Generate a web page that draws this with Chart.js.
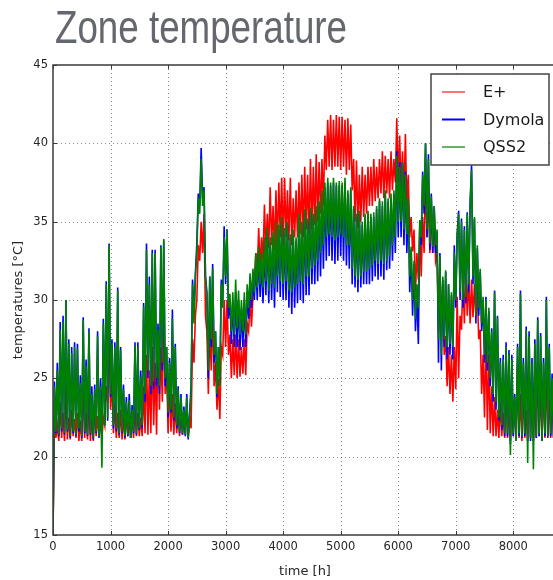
<!DOCTYPE html>
<html>
<head>
<meta charset="utf-8">
<script src="https://cdn.jsdelivr.net/npm/chart.js@4.4.1/dist/chart.umd.min.js"></script>
<style>
  html, body { margin: 0; padding: 0; background: #fff; overflow: hidden; }
  #wrap { position: relative; width: 560px; height: 580px; }
  canvas { position: absolute; left: 0; top: 0; }
  #titulo {
    position: absolute; left: 55px; top: 4px;
    font-family: "Liberation Sans Narrow", "Liberation Sans", Arial, sans-serif;
    font-size: 46px; line-height: 1; color: #64676d;
    white-space: nowrap; transform-origin: 0 0;
  }
</style>
</head>
<body>
<div id="wrap">
  <canvas id="graficoZona" width="560" height="580"></canvas>
  <div id="titulo">Zone temperature</div>
</div>
<script>
// Datos: una muestra cada 25 h (0 .. 8750 h)
const paso = 25;
const xTicks = [0, 1000, 2000, 3000, 4000, 5000, 6000, 7000, 8000];
const yTicks = [15, 20, 25, 30, 35, 40, 45];
const series = ['E+', 'Dymola', 'QSS2'];

const eplus = [
  15, 22.5, 21.2, 22.0, 21.0, 23.5, 21.2, 22.8, 21.0, 24.3, 21.1, 22.5, 21.1, 23.0, 21.3, 22.4, 21.2, 22.8, 21.0, 22.3,
  21.0, 24.5, 21.2, 22.8, 21.1, 23.8, 21.0, 22.5, 21.0, 23.2, 21.3, 22.6, 21.3, 22.2, 21.2, 22.5, 22.0, 24.5, 23.5, 27.9,
  23.0, 25.0, 21.5, 23.4, 21.2, 22.8, 21.2, 23.0, 21.1, 22.5, 21.1, 22.8, 21.3, 22.4, 21.2, 22.6, 21.2, 23.2, 21.3, 22.8,
  21.3, 22.5, 21.3, 24.5, 21.5, 26.5, 21.4, 25.5, 21.5, 27.0, 22.0, 26.0, 21.4, 28.0, 23.0, 27.0, 23.5, 29.0, 24.0, 26.0,
  21.5, 25.0, 21.6, 24.0, 21.4, 23.4, 21.5, 22.8, 21.3, 23.0, 21.4, 22.5, 21.4, 23.2, 21.3, 22.5, 21.8, 27.5, 26.0, 29.0,
  30.0, 33.5, 32.5, 35.0, 33.0, 35.5, 29.0, 28.0, 24.0, 28.5, 25.5, 29.5, 24.5, 26.0, 23.0, 25.0, 22.4, 27.0, 26.5, 30.0,
  27.0, 30.0, 26.5, 27.8, 25.0, 27.5, 25.2, 27.8, 25.0, 27.5, 25.1, 27.0, 25.3, 27.5, 25.2, 28.5, 28.0, 30.0, 28.3, 30.2,
  31.0, 33.0, 31.7, 34.6, 32.0, 34.0, 32.5, 36.1, 33.1, 35.5, 33.3, 37.2, 33.5, 36.0, 33.2, 37.0, 33.5, 37.5, 34.0, 37.8,
  33.5, 37.8, 34.0, 37.0, 33.8, 37.8, 33.5, 36.5, 34.0, 37.0, 34.0, 37.5, 34.2, 38.0, 34.0, 38.5, 34.5, 38.0, 34.2, 39.0,
  34.5, 38.5, 34.8, 39.3, 35.0, 38.8, 35.5, 39.0, 36.0, 40.5, 38.3, 41.5, 38.5, 41.8, 38.3, 41.5, 38.5, 41.8, 38.5, 41.7,
  38.3, 41.7, 38.5, 41.5, 38.0, 41.6, 38.3, 41.2, 37.0, 39.0, 35.0, 38.9, 34.6, 38.0, 35.0, 38.5, 35.3, 38.0, 35.5, 38.5,
  36.0, 38.5, 36.0, 39.0, 36.3, 38.5, 36.5, 39.0, 36.8, 39.5, 36.5, 39.2, 36.8, 39.0, 36.5, 39.5, 37.0, 39.0, 37.5, 41.6,
  37.5, 40.5, 37.0, 39.5, 36.3, 40.6, 36.0, 38.0, 34.0, 35.3, 33.1, 34.5, 30.5, 33.0, 31.3, 34.5, 31.5, 35.3, 33.0, 37.9,
  34.0, 37.0, 33.0, 36.0, 33.0, 35.5, 32.5, 33.0, 28.0, 32.0, 28.5, 31.0, 26.5, 27.7, 24.5, 27.0, 24.0, 26.5, 23.5, 27.0,
  24.3, 30.2, 25.0, 29.0, 28.1, 31.5, 28.5, 32.3, 29.0, 31.5, 28.5, 31.3, 28.9, 31.0, 29.0, 30.5, 27.5, 28.1, 24.0, 26.5,
  22.5, 28.0, 21.7, 26.5, 21.5, 24.5, 21.3, 23.8, 21.3, 23.0, 21.2, 23.5, 21.3, 22.8, 21.2, 25.0, 21.2, 23.5, 21.0, 24.0,
  21.3, 23.5, 21.2, 26.0, 21.2, 24.0, 21.0, 24.5, 21.2, 23.0, 21.0, 25.5, 21.2, 24.0, 21.0, 23.8, 21.2, 26.0, 21.3, 24.5,
  21.0, 25.0, 21.2, 25.5, 21.3, 24.0, 21.2, 23.5, 21.2, 23.0, 21.3
];

const dymola = [
  15, 24.8, 21.5, 26.0, 21.3, 28.6, 21.6, 29.0, 21.4, 30.0, 21.6, 27.5, 21.2, 27.0, 21.5, 27.3, 21.3, 27.2, 21.6, 25.2,
  21.2, 28.9, 21.5, 26.2, 21.3, 28.2, 21.4, 24.5, 21.1, 24.6, 21.5, 28.0, 21.2, 25.0, 21.0, 28.8, 22.0, 31.2, 22.3, 33.6,
  23.8, 27.5, 21.8, 27.3, 21.6, 30.8, 21.4, 27.0, 21.5, 24.6, 21.2, 23.8, 21.3, 24.0, 21.2, 23.3, 21.5, 27.3, 21.4, 27.3,
  21.7, 25.5, 21.8, 29.8, 23.5, 33.6, 25.0, 31.5, 24.0, 33.2, 24.3, 33.2, 24.5, 28.5, 24.0, 33.5, 25.5, 33.8, 24.5, 27.0,
  22.5, 26.3, 22.8, 29.4, 22.3, 27.2, 21.8, 24.5, 21.5, 24.0, 21.4, 23.2, 21.3, 24.0, 21.1, 22.8, 24.5, 31.3, 29.0, 31.7,
  33.6, 36.8, 36.0, 39.7, 36.5, 37.2, 31.5, 30.5, 25.0, 31.5, 27.0, 32.3, 26.0, 28.0, 23.8, 27.0, 24.7, 31.3, 30.0, 34.7,
  31.0, 34.5, 28.8, 30.0, 27.2, 30.0, 27.0, 30.5, 27.0, 30.0, 26.8, 29.5, 27.0, 30.0, 27.0, 30.5, 28.8, 31.2, 29.5, 31.5,
  30.0, 32.5, 30.0, 33.0, 30.2, 32.5, 29.8, 33.5, 30.3, 34.3, 29.8, 33.7, 30.0, 34.0, 29.5, 34.6, 30.5, 34.5, 30.2, 35.0,
  30.0, 34.3, 30.0, 34.8, 29.5, 34.0, 29.1, 34.2, 29.5, 33.8, 29.8, 35.2, 30.0, 34.8, 29.8, 35.5, 30.3, 35.0, 30.3, 35.6,
  31.0, 35.2, 31.0, 35.8, 31.2, 36.0, 31.5, 36.8, 32.0, 37.2, 32.5, 37.5, 32.8, 37.3, 32.5, 37.5, 32.3, 37.3, 32.5, 37.3,
  32.8, 37.3, 32.5, 37.5, 32.2, 36.8, 32.0, 37.0, 31.0, 35.8, 30.8, 35.3, 30.5, 35.5, 30.8, 34.8, 31.0, 35.3, 31.0, 35.5,
  31.0, 35.3, 31.2, 35.3, 31.5, 35.8, 31.3, 36.3, 31.5, 36.0, 31.3, 36.8, 31.9, 36.3, 32.0, 36.5, 32.5, 36.8, 33.0, 39.5,
  34.0, 38.8, 34.0, 38.8, 33.5, 38.2, 33.0, 36.3, 30.5, 33.2, 29.0, 32.3, 28.0, 30.5, 27.2, 35.0, 33.5, 38.2, 35.5, 40.0,
  34.0, 39.3, 33.2, 36.8, 33.0, 36.0, 33.0, 34.3, 26.0, 33.0, 25.5, 31.3, 27.0, 31.8, 26.2, 31.0, 26.5, 30.3, 26.2, 33.5,
  29.5, 34.2, 35.7, 30.0, 35.2, 29.5, 34.7, 29.8, 35.6, 30.5, 36.2, 38.6, 31.0, 35.2, 28.5, 33.3, 29.0, 31.8, 28.0, 30.0,
  26.0, 30.2, 25.5, 29.3, 24.5, 28.2, 23.5, 30.6, 23.0, 29.0, 22.3, 26.3, 21.7, 26.5, 21.3, 27.3, 21.3, 26.8, 20.8, 26.5,
  21.3, 24.0, 21.0, 27.2, 21.3, 30.6, 21.2, 26.3, 21.3, 28.3, 21.0, 28.0, 21.0, 26.3, 21.0, 27.5, 21.2, 28.9, 21.3, 27.9,
  21.0, 26.3, 21.3, 30.2, 21.2, 27.2, 21.3, 25.3, 21.2, 25.8, 21.3
];

const qss2 = [
  15, 24.5, 21.6, 25.5, 21.4, 28.1, 21.8, 28.6, 21.5, 30.0, 21.7, 27.2, 21.3, 26.6, 21.6, 27.0, 21.4, 26.9, 21.8, 24.7,
  21.3, 28.7, 21.6, 25.8, 21.4, 28.0, 21.5, 24.0, 21.2, 24.3, 21.6, 27.7, 21.3, 24.5, 19.3, 28.5, 22.0, 31.0, 22.5, 33.5,
  24.0, 27.2, 22.0, 27.0, 21.8, 30.6, 21.5, 26.8, 21.6, 24.3, 21.3, 23.5, 21.4, 23.6, 21.2, 23.0, 21.6, 27.1, 21.5, 27.0,
  21.8, 25.1, 22.0, 29.6, 24.0, 33.2, 25.5, 31.0, 24.5, 33.0, 24.8, 33.0, 25.0, 28.1, 24.5, 33.4, 26.0, 33.9, 25.0, 27.0,
  22.8, 26.0, 23.0, 28.8, 22.5, 27.0, 22.0, 24.3, 21.6, 23.8, 21.5, 23.0, 21.4, 23.8, 21.2, 22.5, 24.0, 31.0, 28.5, 31.5,
  33.0, 36.5, 35.5, 39.0, 36.0, 37.0, 31.5, 30.0, 25.5, 31.5, 27.5, 32.0, 26.5, 28.0, 24.0, 27.0, 24.5, 31.0, 29.5, 34.0,
  31.5, 34.5, 29.5, 30.4, 28.0, 30.5, 27.8, 31.3, 28.2, 30.6, 27.8, 30.0, 28.0, 30.5, 27.8, 31.0, 29.5, 31.7, 30.0, 32.0,
  30.5, 33.0, 30.8, 33.4, 31.0, 33.0, 30.8, 34.0, 31.2, 34.6, 30.6, 34.0, 31.0, 34.3, 30.8, 35.0, 31.5, 34.8, 31.2, 35.3,
  31.0, 34.6, 31.2, 35.0, 30.6, 34.2, 30.5, 34.5, 30.8, 34.0, 31.0, 35.5, 31.2, 35.0, 31.0, 35.8, 31.5, 35.2, 31.5, 35.9,
  32.0, 35.5, 32.2, 36.0, 32.5, 36.3, 33.0, 37.0, 33.5, 37.5, 34.0, 37.8, 34.2, 37.5, 34.0, 37.8, 33.8, 37.5, 34.0, 37.6,
  34.2, 37.5, 34.0, 37.8, 33.5, 37.0, 33.5, 37.2, 32.0, 36.0, 31.5, 35.5, 31.3, 35.7, 31.5, 35.0, 31.8, 35.5, 31.8, 35.7,
  32.0, 35.5, 32.2, 35.6, 32.5, 36.0, 32.3, 36.5, 32.5, 36.3, 32.3, 37.0, 32.5, 36.5, 32.8, 36.8, 33.5, 37.0, 34.0, 39.2,
  35.0, 38.5, 35.0, 38.8, 34.5, 38.0, 34.2, 36.5, 31.5, 33.4, 30.0, 32.5, 28.8, 31.0, 29.5, 35.1, 34.0, 38.0, 36.0, 40.0,
  34.5, 39.0, 33.6, 36.6, 33.4, 36.0, 33.5, 34.5, 27.5, 32.8, 26.5, 31.5, 27.5, 31.9, 27.0, 31.0, 27.2, 30.5, 27.0, 33.0,
  30.0, 34.0, 35.5, 30.5, 35.0, 30.0, 34.5, 30.2, 35.5, 31.0, 36.0, 38.3, 31.5, 35.3, 29.0, 33.5, 29.5, 32.0, 28.5, 30.2,
  26.5, 30.0, 26.0, 29.5, 25.0, 28.0, 24.0, 30.5, 23.5, 28.9, 22.5, 26.0, 22.0, 26.2, 21.5, 27.0, 21.5, 26.6, 20.1, 26.2,
  21.5, 23.8, 21.0, 27.0, 21.5, 30.4, 21.3, 26.0, 21.5, 28.1, 19.6, 27.7, 21.2, 26.0, 19.2, 27.2, 21.3, 28.7, 21.5, 27.7,
  21.0, 26.0, 21.5, 30.0, 21.3, 27.0, 21.5, 25.0, 21.3, 25.5, 21.5
];

const colores = ['#ff0000', '#0000ff', '#008000'];
const coloresLeyenda = ['rgba(255,0,0,0.55)', '#0000ff', 'rgba(0,128,0,0.6)'];

const puntos = arr => arr.map((v, i) => ({ x: i * paso, y: v }));

// Título condensado para que ocupe el ancho del original
const titulo = document.getElementById('titulo');
titulo.style.transform = 'scaleX(' + (292 / titulo.getBoundingClientRect().width) + ')';

// Rejilla punteada, marco con marcas hacia dentro y leyenda estilo matplotlib
const marco = {
  id: 'marco',
  beforeDatasetsDraw(chart) {
    const { ctx, chartArea: a, scales: { x, y } } = chart;
    ctx.save();
    ctx.strokeStyle = 'rgba(0,0,0,0.45)';
    ctx.lineWidth = 1;
    ctx.setLineDash([1, 3]);
    ctx.beginPath();
    xTicks.slice(1).forEach(v => {
      const px = Math.round(x.getPixelForValue(v)) + 0.5;
      ctx.moveTo(px, a.top); ctx.lineTo(px, a.bottom);
    });
    yTicks.slice(1, -1).forEach(v => {
      const py = Math.round(y.getPixelForValue(v)) + 0.5;
      ctx.moveTo(a.left, py); ctx.lineTo(a.right, py);
    });
    ctx.stroke();
    ctx.restore();
  },
  afterDatasetsDraw(chart) {
    const { ctx, chartArea: a, scales: { x, y } } = chart;
    ctx.save();
    ctx.strokeStyle = '#3a3a3a';
    ctx.lineWidth = 1.5;
    ctx.strokeRect(a.left, a.top, a.right - a.left, a.bottom - a.top);
    ctx.lineWidth = 1;
    ctx.beginPath();
    xTicks.forEach(v => {
      const px = Math.round(x.getPixelForValue(v)) + 0.5;
      ctx.moveTo(px, a.bottom); ctx.lineTo(px, a.bottom - 4);
      ctx.moveTo(px, a.top); ctx.lineTo(px, a.top + 4);
    });
    yTicks.forEach(v => {
      const py = Math.round(y.getPixelForValue(v)) + 0.5;
      ctx.moveTo(a.left, py); ctx.lineTo(a.left + 4, py);
      ctx.moveTo(a.right, py); ctx.lineTo(a.right - 4, py);
    });
    ctx.stroke();

    // leyenda
    const bx = a.right - 126, by = a.top + 9, bw = 118, bh = 91;
    ctx.fillStyle = '#fff';
    ctx.fillRect(bx, by, bw, bh);
    ctx.strokeStyle = '#444';
    ctx.lineWidth = 1.5;
    ctx.strokeRect(bx, by, bw, bh);
    ctx.font = '16px "DejaVu Sans"';
    ctx.textBaseline = 'middle';
    chart.data.datasets.forEach((ds, i) => {
      const ly = by + 18 + i * 27.5;
      ctx.strokeStyle = coloresLeyenda[i];
      ctx.lineWidth = 2;
      ctx.beginPath();
      ctx.moveTo(bx + 11, ly); ctx.lineTo(bx + 34, ly);
      ctx.stroke();
      ctx.fillStyle = '#1a1a1a';
      ctx.fillText(ds.label, bx + 52, ly + 1);
    });
    ctx.restore();
  }
};

new Chart(document.getElementById('graficoZona'), {
  type: 'line',
  data: {
    datasets: [
      { label: series[0], data: puntos(eplus), borderColor: colores[0], order: 3 },
      { label: series[1], data: puntos(dymola), borderColor: colores[1], order: 2 },
      { label: series[2], data: puntos(qss2), borderColor: colores[2], order: 1 }
    ]
  },
  options: {
    responsive: false,
    animation: false,
    layout: { padding: { top: 65, right: 3, left: 0, bottom: 0 } },
    elements: {
      point: { radius: 0 },
      line: { borderWidth: 1.6, tension: 0 }
    },
    plugins: { legend: { display: false }, tooltip: { enabled: false } },
    scales: {
      x: {
        type: 'linear', min: 0, max: 8760,
        afterBuildTicks: s => { s.ticks = xTicks.map(v => ({ value: v })); },
        afterFit: s => { s.height = 45; },
        grid: { display: false, drawTicks: false },
        border: { display: false },
        ticks: { padding: 5, color: '#262626', font: { family: 'DejaVu Sans', size: 11.5 },
                 callback: v => String(v) },
        title: { display: true, text: 'time [h]', color: '#262626',
                 font: { family: 'DejaVu Sans', size: 13 }, padding: { top: 0, bottom: 1 } }
      },
      y: {
        type: 'linear', min: 15, max: 45,
        afterBuildTicks: s => { s.ticks = yTicks.map(v => ({ value: v })); },
        afterFit: s => { s.width = 53; },
        grid: { display: false, drawTicks: false },
        border: { display: false },
        ticks: { padding: 5, color: '#262626', font: { family: 'DejaVu Sans', size: 11.5 },
                 callback: v => String(v) },
        title: { display: true, text: 'temperatures [°C]', color: '#262626',
                 font: { family: 'DejaVu Sans', size: 13 }, padding: { top: 11, bottom: 0 } }
      }
    }
  },
  plugins: [marco]
});
</script>
</body>
</html>
